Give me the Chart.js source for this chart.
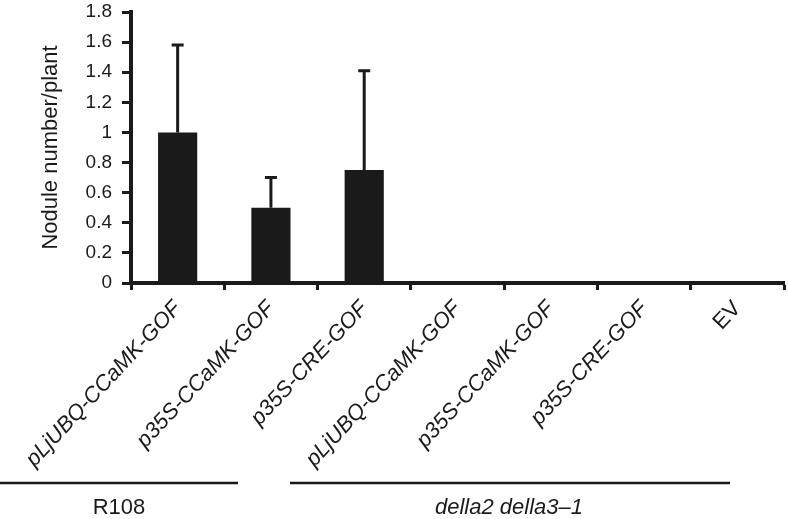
<!DOCTYPE html>
<html>
<head>
<meta charset="utf-8">
<script src="https://cdn.jsdelivr.net/npm/chart.js@4"></script>
<style>
  html, body { margin: 0; padding: 0; background: #fff; }
  canvas { display: block; }
</style>
</head>
<body>
<canvas id="chart" width="788" height="519"></canvas>
<script>
const categories = ['pLjUBQ-CCaMK-GOF', 'p35S-CCaMK-GOF', 'p35S-CRE-GOF',
  'pLjUBQ-CCaMK-GOF', 'p35S-CCaMK-GOF', 'p35S-CRE-GOF', 'EV']
const nodules = [1.0, 0.5, 0.75, 0, 0, 0, 0]
const errors = [0.58, 0.2, 0.66, 0, 0, 0, 0]
const yTicks = [0, 0.2, 0.4, 0.6, 0.8, 1, 1.2, 1.4, 1.6, 1.8]
const groups = ['R108', 'della2 della3\u20131']

const FONT = '"Liberation Sans", Arial, Helvetica, sans-serif'
const INK = '#1a1a1a'

// upward-only error bars with a small cap
const errorBars = {
  id: 'errorBars',
  afterDatasetsDraw(chart) {
    const ctx = chart.ctx
    const y = chart.scales.y
    const meta = chart.getDatasetMeta(0)
    ctx.save()
    ctx.strokeStyle = INK
    ctx.lineWidth = 3
    meta.data.forEach((bar, i) => {
      if (!errors[i]) return
      const top = y.getPixelForValue(nodules[i] + errors[i])
      ctx.beginPath()
      ctx.moveTo(bar.x, bar.y)
      ctx.lineTo(bar.x, top)
      ctx.moveTo(bar.x - 6, top)
      ctx.lineTo(bar.x + 6, top)
      ctx.stroke()
    })
    ctx.restore()
  }
}

// group brackets under the rotated labels
const groupLabels = {
  id: 'groupLabels',
  afterDraw(chart) {
    const ctx = chart.ctx
    const spans = [[0, 238], [290, 730]]
    ctx.save()
    ctx.strokeStyle = INK
    ctx.lineWidth = 2.5
    ctx.fillStyle = INK
    ctx.textAlign = 'center'
    ctx.textBaseline = 'alphabetic'
    groups.forEach((g, i) => {
      const [a, b] = spans[i]
      ctx.beginPath()
      ctx.moveTo(a, 483)
      ctx.lineTo(b, 483)
      ctx.stroke()
      ctx.font = (i === 0 ? '' : 'italic ') + '22px ' + FONT
      ctx.fillText(g, i === 0 ? 119 : 509, 514)
    })
    ctx.restore()
  }
}

new Chart(document.getElementById('chart'), {
  type: 'bar',
  data: {
    labels: categories,
    datasets: [{
      data: nodules,
      backgroundColor: INK,
      borderWidth: 0,
      barPercentage: 0.42,
      categoryPercentage: 1
    }]
  },
  options: {
    responsive: false,
    animation: false,
    layout: { padding: { top: 0, right: 4, left: 0, bottom: 0 } },
    plugins: { legend: { display: false }, tooltip: { enabled: false } },
    scales: {
      x: {
        grid: {
          drawOnChartArea: false,
          tickLength: 7,
          tickWidth: 3,
          tickColor: INK
        },
        border: { color: INK, width: 4 },
        ticks: {
          autoSkip: false,
          maxRotation: 47,
          minRotation: 47,
          padding: 6,
          color: INK,
          font: (c) => ({
            family: FONT,
            size: 22,
            style: categories[c.index] === 'EV' ? 'normal' : 'italic'
          })
        },
        afterFit(scale) {
          scale.height = 236
          scale.paddingLeft = 0
          scale.paddingRight = 0
        }
      },
      y: {
        min: 0,
        max: 1.8,
        afterBuildTicks(scale) {
          scale.ticks = yTicks.map(v => ({ value: v }))
        },
        grid: {
          drawOnChartArea: false,
          tickLength: 9,
          tickWidth: 3,
          tickColor: INK
        },
        border: { color: INK, width: 4 },
        ticks: {
          padding: 10,
          color: INK,
          font: { family: FONT, size: 19 },
          callback: (v) => String(+v.toFixed(1))
        },
        title: {
          display: true,
          text: 'Nodule number/plant',
          color: INK,
          font: { family: FONT, size: 22 },
          padding: { top: 38, bottom: 0 }
        },
        afterFit(scale) {
          scale.width = 131
          scale.paddingTop = 12
          scale.paddingBottom = 0
        }
      }
    }
  },
  plugins: [errorBars, groupLabels]
})
</script>
</body>
</html>
